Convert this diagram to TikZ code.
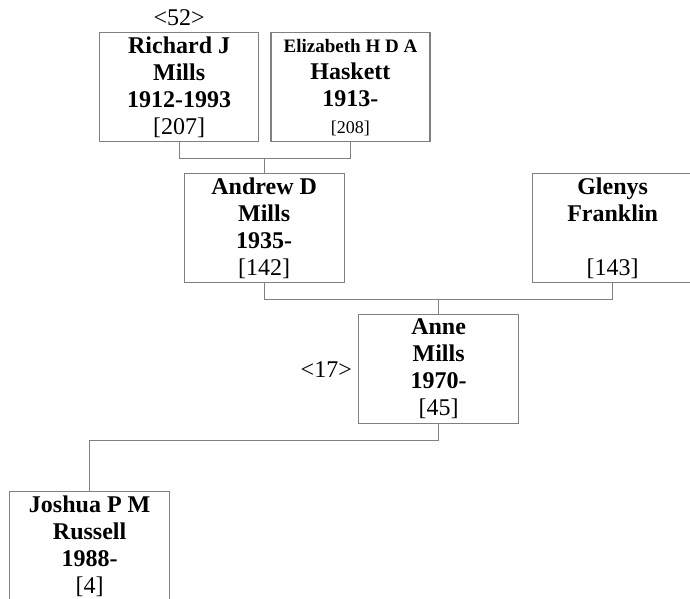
\documentclass[tikz,border=0pt]{standalone}
\usepackage{fontspec}
\setmainfont{Liberation Serif}
\usetikzlibrary{positioning}

\definecolor{linegray}{HTML}{808080}
\newcommand{\pid}[1]{{\mdseries[#1]}}

\begin{document}
\begin{tikzpicture}[x=1pt, y=-1pt,
    person/.style={draw=linegray, line width=1.3pt, minimum width=160pt,
      minimum height=109pt, inner sep=0pt, align=center, anchor=north west,
      font=\bfseries\fontsize{24}{27}\selectfont},
    link/.style={draw=linegray, line width=1.3pt},
    gen/.style={inner sep=0pt, font=\fontsize{24}{27}\selectfont}]
  \useasboundingbox (0,0) rectangle (690,598);
  \clip (0,0) rectangle (690,598);

  % grandparents
  \node (richard) [person, minimum width=159pt] at (99,32)
    {Richard J\\Mills\\1912-1993\\\pid{207}};
  \node (elizabeth) [person, minimum width=159pt, right=11pt of richard.north east, anchor=north west]
    {{\fontsize{19}{27}\selectfont Elizabeth H D A}\\Haskett\\1913-\\{\fontsize{18}{27}\selectfont\pid{208}}};
  \node (g52) [gen, above=6pt of richard] {<52>};

  % parents
  \node (andrew) [person] at (183.5,173) {Andrew D\\Mills\\1935-\\\pid{142}};
  \node (glenys) [person] at (532,173) {Glenys\\Franklin\\\strut\\\pid{143}};

  % Anne and child
  \node (anne) [person] at (358,314) {Anne\\Mills\\1970-\\\pid{45}};
  \node (g17) [gen, left=6pt of anne] {<17>};
  \node (joshua) [person] at (9,491) {Joshua P M\\Russell\\1988-\\\pid{4}};

  \draw[link] (richard.south) -- ++(0,16) coordinate (rm) -| (elizabeth.south);
  \draw[link] (andrew.north) -- (andrew.north |- rm);
  \draw[link] (andrew.south) -- ++(0,16) coordinate (am) -| (glenys.south);
  \draw[link] (anne.north) -- (anne.north |- am);
  \draw[link] (anne.south) -- ++(0,16) -| (joshua.north);
\end{tikzpicture}
\end{document}
